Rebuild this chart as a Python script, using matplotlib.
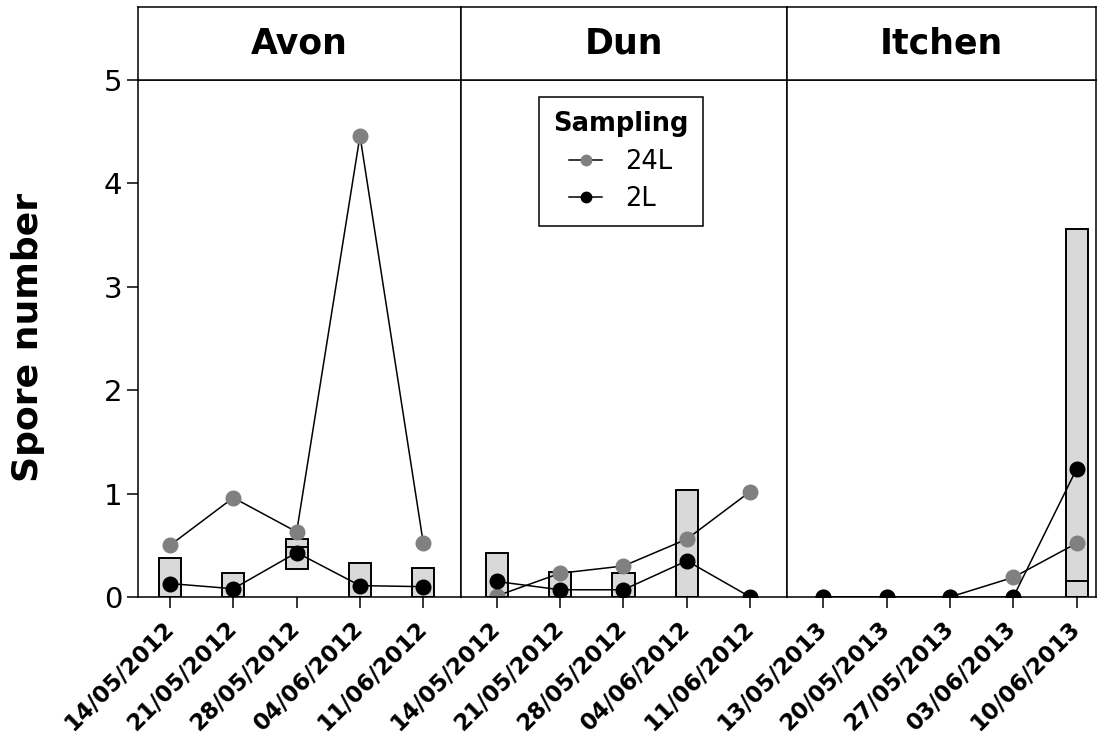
import matplotlib.pyplot as plt
import numpy as np
from matplotlib.lines import Line2D

# Data
sites = ["Avon", "Dun", "Itchen"]
dates_avon = ["14/05/2012", "21/05/2012", "28/05/2012", "04/06/2012", "11/06/2012"]
dates_dun = ["14/05/2012", "21/05/2012", "28/05/2012", "04/06/2012", "11/06/2012"]
dates_itchen = ["13/05/2013", "20/05/2013", "27/05/2013", "03/06/2013", "10/06/2013"]

spores_24L = [
    [0.50, 0.96, 0.63, 4.46, 0.52],
    [0.01, 0.23, 0.30, 0.56, 1.02],
    [0.00, 0.00, 0.00, 0.19, 0.52],
]
spores_2L = [
    [0.13, 0.08, 0.43, 0.11, 0.10],
    [0.15, 0.07, 0.07, 0.35, 0.00],
    [0.00, 0.00, 0.00, 0.00, 1.24],
]
# grey boxes: low / high / middle line
box_low = [
    [0, 0, 0.27, 0, 0],
    [0, 0, 0, 0, 0],
    [0, 0, 0, 0, 0],
]
box_high = [
    [0.38, 0.23, 0.56, 0.33, 0.28],
    [0.43, 0.24, 0.23, 1.03, 0.00],
    [0.00, 0.00, 0.00, 0.00, 3.56],
]
box_mid = [
    [0, 0, 0.48, 0, 0],
    [0, 0, 0, 0, 0],
    [0, 0, 0, 0, 0.15],
]
all_dates = [dates_avon, dates_dun, dates_itchen]

# layout in pixels (width 1097, height 738)
W, H = 1097, 738
panel_px = [(138, 461), (461, 787), (787, 1096)]
xlims = [(-0.505, 4.595), (-0.564, 4.58), (-0.573, 4.305)]
top_px, bot_px, strip_top_px = 80, 597, 7

fig = plt.figure(figsize=(W / 100, H / 100), dpi=100)
lw = 1.1
grey = "#808080"

axes = []
for i, site in enumerate(sites):
    x0, x1 = panel_px[i]
    ax = fig.add_axes([x0 / W, 1 - bot_px / H, (x1 - x0) / W, (bot_px - top_px) / H])
    sax = fig.add_axes([x0 / W, 1 - top_px / H, (x1 - x0) / W, (top_px - strip_top_px) / H])
    x = np.arange(len(all_dates[i]))
    low = np.array(box_low[i])
    high = np.array(box_high[i])
    mid = np.array(box_mid[i])

    keep = high > low
    ax.bar(x[keep], (high - low)[keep], bottom=low[keep], width=0.35,
           color="#d9d9d9", edgecolor="black", linewidth=1.4, zorder=1)
    mk = keep & (mid > low)
    ax.hlines(mid[mk], x[mk] - 0.175, x[mk] + 0.175, color="black", lw=1.4, zorder=1.5)

    ax.plot(x, spores_24L[i], color="black", lw=1.1, marker="o", ms=10.5,
            mfc=grey, mec=grey, zorder=2)
    ax.plot(x, spores_2L[i], color="black", lw=1.1, marker="o", ms=10.5,
            mfc="black", mec="black", zorder=3)

    ax.set_xlim(*xlims[i])
    ax.set_ylim(0, 5)
    ax.set_xticks(x)
    ax.set_xticklabels(all_dates[i], rotation=45, ha="right", va="center",
                       rotation_mode="anchor", fontsize=16.5, fontweight="bold")
    ax.tick_params(axis="x", direction="out", length=8, width=lw, pad=12)
    if i == 0:
        ax.set_yticks(range(6))
        ax.tick_params(axis="y", direction="out", length=8, width=lw, labelsize=21)
    else:
        ax.set_yticks([])
    for s in ax.spines.values():
        s.set_linewidth(lw)

    sax.set_xticks([])
    sax.set_yticks([])
    for s in sax.spines.values():
        s.set_linewidth(lw)
    sax.text(0.5, 0.5, site, ha="center", va="center", fontsize=25,
             fontweight="bold", transform=sax.transAxes)
    axes.append(ax)

fig.text(28 / W, 1 - 337 / H, "Spore number", rotation=90, ha="center",
         va="center", fontsize=26, fontweight="bold")

handles = [
    Line2D([], [], color="black", lw=1.1, marker="o", ms=7.5, mfc=grey, mec=grey),
    Line2D([], [], color="black", lw=1.1, marker="o", ms=7.5, mfc="black", mec="black"),
]
leg = fig.legend(handles, ["24L", "2L"], title="Sampling", loc="upper left",
                 bbox_to_anchor=(539 / W, 1 - 97 / H), fontsize=18.5,
                 title_fontproperties={"weight": "bold", "size": 18.5},
                 frameon=True, fancybox=False, edgecolor="black", framealpha=1,
                 handlelength=1.3, handletextpad=0.9, borderaxespad=0,
                 labelspacing=0.45, borderpad=0.55)
leg.get_frame().set_linewidth(lw)

plt.savefig("out.png", dpi=100)
